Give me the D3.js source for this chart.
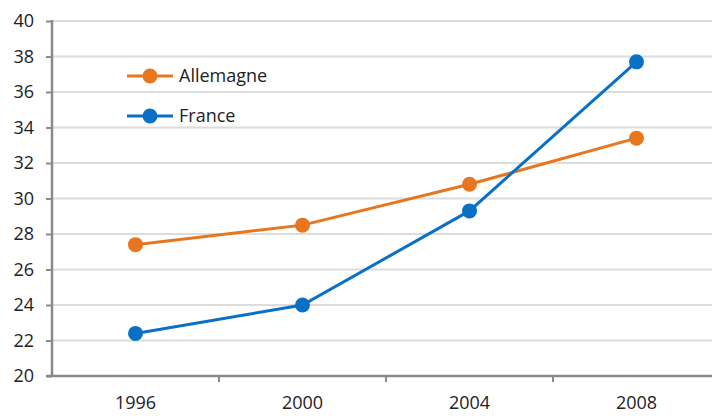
<!DOCTYPE html>
<html><head><meta charset="utf-8">
<script src="https://cdn.jsdelivr.net/npm/d3@7"></script>
<style>body{margin:0;background:#fff}svg{display:block}text{font-family:"Open Sans","DejaVu Sans",sans-serif;fill:#222}</style>
</head><body><svg id="c" width="712" height="416"></svg>
<script>
const years = ["1996","2000","2004","2008"];
const allemagne = [27.4, 28.5, 30.8, 33.4];
const france = [22.4, 24.0, 29.3, 37.7];
const yTicks = [20,22,24,26,28,30,32,34,36,38,40];
const seriesNames = ["Allemagne","France"];
const colors = ["#E8761E","#0A70C6"];

const svg = d3.select("#c");
const x = d3.scaleBand().domain(years).range([52, 720]);
const y = d3.scaleLinear().domain([20, 40]).range([376, 21]);

// gridlines
svg.append("g").selectAll("line").data(yTicks.slice(1)).join("line")
  .attr("x1", 52).attr("x2", 712).attr("y1", d => y(d)).attr("y2", d => y(d))
  .attr("stroke", "#dcdcdc").attr("stroke-width", 2);

// y axis
const ya = svg.append("g").attr("transform", "translate(52,0)")
  .call(d3.axisLeft(y).tickValues(yTicks).tickSize(6).tickPadding(12));
ya.select(".domain").attr("stroke", "#8a8a8a").attr("stroke-width", 2.5).attr("d", `M0,${y(40)-1}V${y(20)}`);
ya.selectAll(".tick line").attr("stroke", "#8a8a8a").attr("stroke-width", 2);
ya.selectAll(".tick text").attr("font-size", 18).attr("fill", "#222").attr("font-family", '"Open Sans", sans-serif');

// x axis
const xa = svg.append("g").attr("transform", `translate(0,${y(20)})`);
xa.append("line").attr("x1", 46).attr("x2", 712).attr("y1", 0).attr("y2", 0)
  .attr("stroke", "#8a8a8a").attr("stroke-width", 2.5);
xa.selectAll("line.tk").data(years.slice(1)).join("line").attr("class","tk")
  .attr("x1", d => x(d)).attr("x2", d => x(d)).attr("y1", 0).attr("y2", 6)
  .attr("stroke", "#8a8a8a").attr("stroke-width", 2);
xa.selectAll("text").data(years).join("text")
  .attr("x", d => x(d) + x.bandwidth()/2).attr("y", 33)
  .attr("text-anchor", "middle").attr("font-size", 18).text(d => d);

// series
const data = [allemagne, france];
const line = d3.line().x((d,i) => x(years[i]) + x.bandwidth()/2).y(d => y(d));
data.forEach((vals, s) => {
  const g = svg.append("g");
  g.append("path").datum(vals).attr("d", line).attr("fill", "none")
    .attr("stroke", colors[s]).attr("stroke-width", 3);
  g.selectAll("circle").data(vals).join("circle")
    .attr("cx", (d,i) => x(years[i]) + x.bandwidth()/2).attr("cy", d => y(d))
    .attr("r", 7.5).attr("fill", colors[s]);
});

// legend
const lg = svg.append("g").selectAll("g").data(seriesNames).join("g")
  .attr("transform", (d,i) => `translate(127,${76 + i*40})`);
lg.append("line").attr("x1", 0).attr("x2", 46).attr("stroke", (d,i) => colors[i]).attr("stroke-width", 3);
lg.append("circle").attr("cx", 23).attr("r", 7.5).attr("fill", (d,i) => colors[i]);
lg.append("text").attr("x", 52).attr("dy", "0.35em").attr("font-size", 18).text(d => d);
</script></body></html>
